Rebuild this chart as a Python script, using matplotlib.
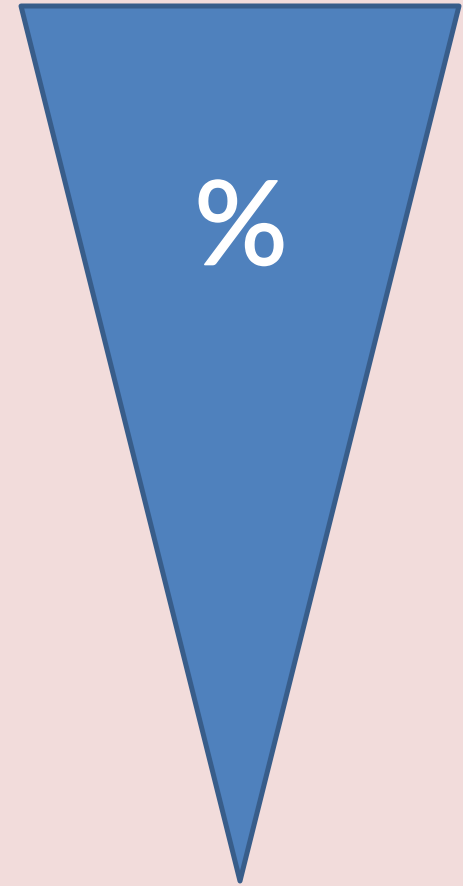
import matplotlib.pyplot as plt
import matplotlib.patheffects as pe
from matplotlib.patches import Polygon

# triangle corners in pixel space (x, y from top)
tri_x = [21, 459, 240]
tri_y = [7, 7, 882]
label = '%'

fig = plt.figure(figsize=(4.64, 8.87), dpi=100)
fig.patch.set_facecolor('#F2DCDB')
ax = fig.add_axes([0, 0, 1, 1])
ax.set_xlim(0, 464)
ax.set_ylim(887, 0)
ax.axis('off')

tri = Polygon(list(zip(tri_x, tri_y)), closed=True, facecolor='#4F81BD',
              edgecolor='#385D8A', linewidth=3.6, joinstyle='round')
ax.add_patch(tri)

ax.text(241, 233, label, color='white', fontsize=84, family='Lato',
        ha='center', va='center',
        path_effects=[pe.withStroke(linewidth=1.2, foreground='white')])

fig.savefig('out.png', dpi=100, facecolor=fig.get_facecolor())
